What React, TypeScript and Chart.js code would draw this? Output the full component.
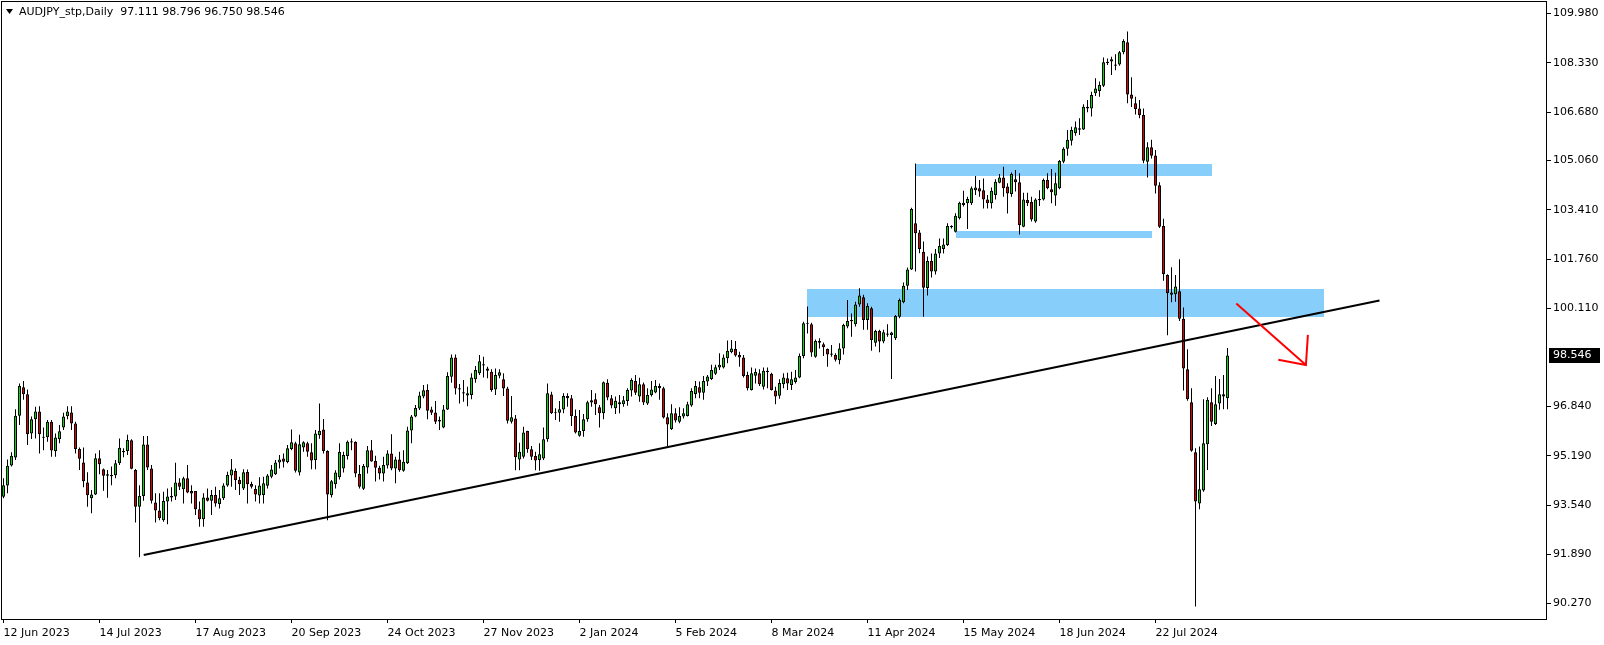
import React, { useEffect, useRef } from 'react';
import { Chart, registerables } from 'chart.js';

Chart.register(...registerables);

const TITLE = 'AUDJPY_stp,Daily  97.111 98.796 96.750 98.546';

const OPEN = [
  93.82, 94.20, 94.87, 95.13, 96.53, 97.48, 97.25, 95.94, 96.41, 96.67,
  95.80, 95.81, 96.33, 95.34, 95.74, 96.14, 96.51, 96.64, 96.27, 95.42,
  94.97, 94.30, 93.77, 93.90, 95.11, 94.74, 94.57, 94.53, 94.54, 94.94,
  95.35, 95.35, 95.71, 94.72, 93.49, 93.85, 95.57, 94.77, 93.63, 93.36,
  93.04, 93.66, 93.80, 93.83, 94.30, 94.07, 94.44, 94.01, 94.01, 93.40,
  93.07, 93.80, 93.69, 93.88, 93.58, 93.77, 94.20, 94.53, 94.68, 94.38,
  94.10, 94.65, 94.25, 94.08, 93.86, 93.88, 94.19, 94.49, 94.57, 94.97,
  95.10, 94.98, 95.42, 95.61, 94.63, 95.47, 95.61, 95.31, 95.05, 95.88,
  96.07, 95.35, 93.87, 94.24, 94.47, 94.77, 95.18, 95.67, 95.65, 94.58,
  94.09, 94.80, 95.38, 95.02, 94.79, 94.60, 94.87, 95.27, 94.77, 95.07,
  94.69, 94.94, 96.04, 96.50, 96.77, 97.17, 97.39, 96.74, 96.64, 96.39,
  96.14, 96.74, 97.83, 98.48, 97.44, 97.31, 97.21, 97.22, 97.75, 97.95,
  98.22, 98.11, 98.00, 97.41, 97.87, 97.75, 97.44, 96.33, 96.44, 95.07,
  95.16, 96.02, 95.41, 95.18, 95.05, 95.10, 95.74, 97.24, 96.65, 96.63,
  96.74, 97.19, 97.11, 96.52, 95.86, 96.02, 96.41, 96.97, 97.08, 96.81,
  96.61, 97.63, 97.11, 96.78, 96.98, 96.91, 97.02, 97.37, 97.69, 97.17,
  97.58, 96.94, 97.22, 97.31, 97.52, 97.45, 96.48, 96.08, 96.61, 96.33,
  96.50, 96.52, 96.87, 97.26, 97.48, 97.30, 97.67, 97.76, 97.93, 98.14,
  98.14, 98.45, 98.65, 98.76, 98.56, 98.48, 97.89, 97.39, 97.87, 97.95,
  97.50, 98.02, 97.93, 97.37, 97.20, 97.58, 97.78, 97.56, 97.66, 97.81,
  98.53, 99.64, 99.59, 98.50, 98.97, 98.92, 98.76, 98.60, 98.56, 98.38,
  98.78, 99.51, 99.72, 99.59, 100.25, 100.49, 99.73, 100.12, 98.97, 99.36,
  99.01, 99.27, 99.23, 99.12, 99.84, 100.32, 100.87, 101.42, 102.96, 102.65,
  102.01, 100.80, 101.70, 101.35, 101.95, 102.10, 102.24, 102.84, 102.68, 103.13,
  103.57, 103.63, 103.63, 104.07, 104.13, 104.07, 103.76, 103.63, 103.91, 104.32,
  104.49, 104.19, 103.94, 104.43, 104.33, 102.85, 103.74, 103.68, 103.02, 103.76,
  103.76, 104.41, 104.10, 103.89, 104.13, 105.02, 105.45, 105.72, 105.97, 106.14,
  106.10, 106.80, 106.80, 107.31, 107.38, 107.56, 108.36, 108.37, 108.27, 108.27,
  108.68, 109.01, 107.27, 106.97, 106.80, 106.58, 105.02, 105.50, 105.23, 104.23,
  102.87, 101.23, 100.57, 100.59, 100.69, 99.77, 98.08, 96.98, 95.31, 93.60,
  94.03, 95.58, 96.98, 96.25, 96.94, 97.25, 97.111,
];

const HIGH = [
  94.44, 95.07, 95.31, 96.75, 97.61, 97.69, 97.41, 96.50, 96.83, 96.85,
  96.14, 96.39, 96.39, 95.94, 96.22, 96.63, 96.85, 96.85, 96.33, 95.47,
  95.47, 94.64, 94.05, 95.27, 95.38, 94.77, 94.72, 94.83, 95.05, 95.77,
  95.44, 95.89, 95.74, 94.75, 94.21, 95.85, 95.85, 94.88, 93.94, 93.94,
  93.99, 94.10, 94.14, 94.96, 94.44, 94.49, 94.88, 94.21, 94.01, 93.66,
  93.94, 94.10, 94.05, 94.16, 94.05, 94.27, 94.66, 95.08, 94.77, 94.49,
  94.74, 94.73, 94.32, 94.21, 94.47, 94.49, 94.58, 94.88, 95.05, 95.22,
  95.27, 95.55, 96.07, 95.66, 95.89, 95.68, 95.66, 95.61, 96.05, 96.94,
  96.42, 95.38, 94.38, 94.71, 95.61, 95.33, 95.70, 95.77, 95.68, 94.88,
  94.92, 95.52, 95.72, 95.19, 94.86, 95.16, 95.38, 95.91, 95.16, 95.33,
  95.38, 96.16, 96.55, 96.89, 97.33, 97.56, 97.58, 96.83, 97.02, 96.50,
  96.89, 97.98, 98.58, 98.58, 97.59, 97.72, 97.50, 97.95, 98.19, 98.56,
  98.50, 98.17, 98.08, 98.11, 98.08, 97.95, 97.50, 97.19, 96.55, 95.63,
  96.16, 96.03, 95.52, 95.33, 95.61, 96.14, 97.61, 97.33, 96.78, 97.02,
  97.28, 97.28, 97.22, 96.74, 96.72, 96.59, 97.03, 97.39, 97.28, 96.89,
  97.67, 97.75, 97.22, 97.17, 97.22, 97.19, 97.45, 97.78, 97.89, 97.80,
  97.64, 97.45, 97.69, 97.72, 97.61, 97.50, 96.61, 96.91, 96.78, 96.81,
  96.78, 97.00, 97.45, 97.69, 97.67, 97.86, 97.89, 98.23, 98.23, 98.62,
  98.58, 99.04, 99.06, 99.03, 98.67, 98.56, 98.00, 98.14, 98.11, 98.08,
  98.14, 98.14, 97.97, 97.50, 97.75, 97.95, 97.97, 98.00, 98.06, 98.61,
  99.67, 100.18, 99.64, 99.08, 99.12, 98.98, 98.78, 98.89, 98.62, 98.95,
  99.60, 100.40, 99.95, 100.34, 100.79, 100.57, 100.29, 100.17, 99.40, 99.40,
  99.40, 99.59, 99.34, 99.90, 100.45, 100.98, 101.48, 103.48, 104.96, 102.74,
  102.35, 101.85, 101.95, 102.10, 102.45, 102.45, 102.96, 102.90, 103.30, 103.68,
  104.05, 103.85, 104.19, 104.54, 104.41, 104.46, 103.91, 104.16, 104.43, 104.61,
  104.85, 104.30, 104.66, 104.74, 104.63, 103.98, 103.98, 103.85, 103.80, 104.07,
  104.46, 104.63, 104.78, 104.65, 105.08, 105.50, 106.08, 106.19, 106.36, 106.47,
  106.94, 107.08, 107.36, 107.81, 107.70, 108.50, 108.47, 108.53, 108.61, 108.72,
  109.11, 109.37, 107.84, 107.19, 107.08, 106.80, 105.67, 105.75, 105.41, 104.33,
  103.11, 101.26, 101.49, 101.23, 101.76, 100.15, 98.75, 97.45, 95.44, 95.50,
  97.08, 97.15, 97.45, 97.86, 97.76, 97.89, 98.796,
];

const LOW = [
  93.77, 93.94, 94.83, 95.05, 96.22, 97.06, 95.55, 95.75, 95.77, 95.27,
  95.38, 95.66, 95.16, 95.16, 95.61, 96.05, 96.41, 96.05, 95.27, 94.72,
  94.14, 93.49, 93.27, 93.88, 94.57, 94.02, 93.79, 94.21, 94.44, 94.88,
  95.14, 95.22, 94.74, 92.96, 91.80, 93.69, 94.72, 93.60, 92.96, 93.04,
  92.99, 92.90, 93.66, 93.71, 94.05, 93.60, 93.94, 93.60, 93.21, 92.82,
  92.82, 93.66, 93.21, 93.49, 93.43, 93.71, 94.16, 94.16, 94.05, 93.88,
  94.05, 93.60, 94.10, 93.66, 93.60, 93.60, 94.10, 94.44, 94.55, 94.77,
  94.80, 94.94, 95.38, 94.63, 94.53, 95.33, 95.16, 94.74, 94.74, 95.76,
  95.27, 93.04, 93.80, 94.10, 94.40, 94.63, 95.07, 95.38, 94.47, 94.10,
  94.05, 94.60, 94.99, 94.33, 94.40, 94.33, 94.77, 94.71, 94.27, 94.66,
  94.66, 94.92, 95.61, 96.48, 96.72, 97.11, 96.41, 96.55, 96.25, 96.05,
  96.11, 96.72, 97.63, 97.24, 96.94, 97.00, 96.85, 97.08, 97.63, 97.89,
  97.81, 97.78, 97.33, 97.22, 97.78, 97.19, 96.27, 96.27, 94.71, 94.71,
  95.10, 95.29, 95.05, 94.71, 94.69, 95.05, 95.66, 96.59, 96.39, 96.33,
  96.61, 96.83, 96.19, 95.94, 95.83, 95.83, 96.33, 96.83, 96.55, 96.14,
  96.41, 97.05, 96.78, 96.59, 96.61, 96.83, 96.86, 97.17, 97.22, 97.00,
  96.89, 96.89, 97.17, 97.28, 97.06, 96.44, 95.50, 96.05, 96.30, 96.28,
  96.44, 96.50, 96.83, 97.11, 97.11, 97.06, 97.52, 97.72, 97.89, 98.06,
  98.11, 98.28, 98.62, 98.50, 98.17, 97.81, 97.37, 97.37, 97.61, 97.52,
  97.41, 97.45, 97.37, 96.91, 97.10, 97.45, 97.39, 97.39, 97.61, 97.78,
  98.45, 99.28, 98.50, 98.47, 98.78, 98.53, 98.17, 98.50, 98.34, 98.25,
  98.58, 99.45, 99.17, 99.51, 100.17, 99.40, 99.40, 98.70, 98.84, 98.65,
  98.95, 99.17, 97.76, 99.06, 99.79, 100.29, 100.73, 101.40, 101.35, 101.96,
  99.84, 100.55, 101.15, 101.25, 101.80, 101.95, 102.20, 102.79, 102.65, 103.09,
  103.52, 102.77, 103.57, 103.91, 103.85, 103.46, 103.46, 103.46, 103.76, 104.30,
  103.85, 103.29, 103.85, 104.02, 102.59, 102.83, 103.54, 103.02, 102.98, 103.54,
  103.72, 104.10, 103.63, 103.55, 104.10, 104.97, 105.22, 105.56, 105.89, 105.91,
  106.08, 106.67, 106.53, 107.22, 107.19, 107.52, 108.25, 107.92, 108.08, 108.23,
  108.61, 106.97, 106.85, 106.60, 106.47, 104.97, 104.49, 105.13, 103.96, 102.80,
  101.04, 99.22, 100.32, 100.34, 99.70, 97.37, 97.03, 95.33, 90.15, 93.40,
  93.99, 94.72, 96.19, 96.22, 96.73, 96.75, 96.750,
];

const CLOSE = [
  94.21, 94.86, 95.19, 96.53, 97.52, 97.25, 95.91, 96.41, 96.67, 95.91,
  95.82, 96.33, 95.37, 95.80, 96.01, 96.50, 96.67, 96.27, 95.42, 95.09,
  94.34, 93.87, 93.90, 95.11, 94.91, 94.52, 94.52, 94.52, 94.94, 95.46,
  95.31, 95.72, 94.76, 93.49, 93.85, 95.57, 94.80, 93.69, 93.36, 93.10,
  93.68, 93.83, 93.85, 94.30, 94.16, 94.44, 93.96, 93.93, 93.40, 93.07,
  93.80, 93.69, 93.88, 93.60, 93.77, 94.20, 94.55, 94.73, 94.38, 94.24,
  94.64, 94.24, 94.16, 93.90, 94.20, 94.27, 94.53, 94.73, 94.97, 95.07,
  94.99, 95.44, 95.64, 94.69, 95.58, 95.64, 95.33, 95.03, 95.94, 96.03,
  95.35, 93.90, 94.34, 94.63, 95.32, 95.22, 95.66, 95.64, 94.60, 94.16,
  94.85, 95.38, 95.00, 94.79, 94.60, 94.88, 95.27, 94.77, 95.07, 94.71,
  94.99, 96.04, 96.50, 96.79, 97.21, 97.38, 96.70, 96.63, 96.33, 96.34,
  96.74, 97.86, 98.48, 97.44, 97.41, 97.28, 97.28, 97.81, 98.06, 98.35,
  98.24, 98.03, 97.39, 97.89, 97.98, 97.44, 96.36, 96.48, 95.14, 95.33,
  95.97, 95.41, 95.16, 95.03, 95.24, 95.74, 97.28, 96.61, 96.61, 96.75,
  97.19, 97.11, 96.52, 95.97, 96.02, 96.41, 96.98, 97.05, 96.91, 96.61,
  97.65, 97.14, 96.87, 97.03, 96.91, 97.05, 97.39, 97.72, 97.30, 97.58,
  96.97, 97.22, 97.41, 97.52, 97.45, 96.47, 96.24, 96.61, 96.37, 96.52,
  96.61, 96.91, 97.36, 97.52, 97.30, 97.69, 97.84, 98.06, 98.15, 98.23,
  98.48, 98.70, 98.78, 98.54, 98.48, 97.86, 97.45, 97.95, 97.99, 97.58,
  98.03, 98.00, 97.39, 97.17, 97.62, 97.81, 97.61, 97.75, 97.81, 98.53,
  99.62, 99.60, 98.64, 99.03, 99.03, 98.82, 98.58, 98.58, 98.40, 98.78,
  99.56, 99.70, 99.70, 100.25, 100.55, 99.73, 100.20, 99.06, 99.36, 99.01,
  99.32, 99.25, 99.31, 99.86, 100.40, 100.87, 101.42, 103.44, 102.63, 102.10,
  100.81, 101.70, 101.35, 101.95, 102.20, 102.25, 102.87, 102.86, 103.21, 103.65,
  103.65, 103.77, 104.13, 104.16, 104.02, 103.76, 103.63, 104.05, 104.35, 104.49,
  104.13, 103.96, 104.61, 104.33, 102.90, 103.76, 103.63, 103.09, 103.76, 103.75,
  104.41, 104.13, 104.00, 104.30, 105.04, 105.45, 105.75, 106.08, 106.17, 106.09,
  106.86, 106.86, 107.25, 107.47, 107.58, 108.34, 108.32, 108.44, 108.23, 108.68,
  109.05, 107.27, 107.12, 106.78, 106.58, 105.05, 105.50, 105.22, 104.22, 102.85,
  101.26, 100.62, 100.65, 100.85, 99.77, 98.11, 97.08, 95.36, 93.66, 94.07,
  95.61, 97.06, 96.33, 96.91, 97.25, 97.17, 98.546,
];

const X_TICK_INDEX = [0, 24, 48, 72, 96, 120, 144, 168, 192, 216, 240, 264, 288];
const X_TICK_LABELS = [
  '12 Jun 2023', '14 Jul 2023', '17 Aug 2023', '20 Sep 2023', '24 Oct 2023',
  '27 Nov 2023', '2 Jan 2024', '5 Feb 2024', '8 Mar 2024', '11 Apr 2024',
  '15 May 2024', '18 Jun 2024', '22 Jul 2024',
];
const Y_TICKS = [109.98, 108.33, 106.68, 105.06, 103.41, 101.76, 100.11, 96.84, 95.19, 93.54, 91.89, 90.27];
const LAST_PRICE = 98.546;

const TREND_X = [35.05, 344];
const TREND_Y = [91.875, 100.38];

const ARROW_X = [308.2, 325.6];
const ARROW_Y = [100.28, 98.225];
const ARROW_HEAD_X = [318.7, 325.6, 326.1];
const ARROW_HEAD_Y = [98.40, 98.225, 99.23];

const ZONE_START = [201, 228, 238];
const ZONE_END = [330, 302, 287];
const ZONE_HIGH = [100.77, 104.95, 102.70];
const ZONE_LOW = [99.84, 104.55, 102.48];

const BULL = '#00dd00';
const BEAR = '#dd0000';
const ZONE_COLOR = '#87CEFA';
const FONT = 'DejaVu Sans';
const MIN_BODY = 0.04;

const zonesPlugin = {
  id: 'zones',
  beforeDatasetsDraw(chart: any) {
    const { ctx, scales } = chart;
    const xs = scales.x;
    const ys = scales.y;
    ctx.save();
    ctx.fillStyle = ZONE_COLOR;
    for (let k = 0; k < ZONE_START.length; k++) {
      const x0 = Math.round(xs.getPixelForValue(ZONE_START[k]));
      const x1 = Math.round(xs.getPixelForValue(ZONE_END[k]));
      const y0 = Math.round(ys.getPixelForValue(ZONE_HIGH[k]));
      const y1 = Math.round(ys.getPixelForValue(ZONE_LOW[k]));
      ctx.fillRect(x0, y0, x1 - x0, y1 - y0);
    }
    ctx.restore();
  },
};

const decorPlugin = {
  id: 'decor',
  beforeDraw(chart: any) {
    const { ctx } = chart;
    ctx.save();
    ctx.fillStyle = '#ffffff';
    ctx.fillRect(0, 0, chart.width, chart.height);
    ctx.restore();
  },
  afterDraw(chart: any) {
    const { ctx, chartArea, scales } = chart;
    ctx.save();
    ctx.strokeStyle = '#000';
    ctx.lineWidth = 1;
    ctx.strokeRect(chartArea.left + 0.5, chartArea.top + 0.5, chartArea.right - chartArea.left - 1, chartArea.bottom - chartArea.top);
    ctx.fillStyle = '#000';
    ctx.beginPath();
    ctx.moveTo(6, 9);
    ctx.lineTo(13, 9);
    ctx.lineTo(9.5, 14);
    ctx.closePath();
    ctx.fill();
    ctx.font = `11px "${FONT}"`;
    ctx.textBaseline = 'middle';
    ctx.textAlign = 'left';
    ctx.fillText(TITLE, 19, 12.5);
    const y = scales.y.getPixelForValue(LAST_PRICE);
    ctx.fillStyle = '#000';
    ctx.fillRect(chartArea.right + 2, Math.round(y) - 7, 51, 15);
    ctx.fillStyle = '#fff';
    ctx.fillText(LAST_PRICE.toFixed(3), chartArea.right + 6, Math.round(y) + 0.5);
    ctx.restore();
  },
};

export default function App() {
  const canvasRef = useRef<HTMLCanvasElement | null>(null);

  useEffect(() => {
    document.body.style.margin = '0';
    const canvas = canvasRef.current;
    if (!canvas) return;
    Chart.defaults.font.family = FONT;
    Chart.defaults.font.size = 11;
    Chart.defaults.color = '#000';

    const idx = OPEN.map((_, i) => i);
    const wickData = idx.map((i) => ({ x: i, y: [LOW[i], HIGH[i]] }));
    const bodyData = idx.map((i) => {
      let lo = Math.min(OPEN[i], CLOSE[i]);
      let hi = Math.max(OPEN[i], CLOSE[i]);
      if (hi - lo < MIN_BODY) {
        const m = (hi + lo) / 2;
        lo = m - MIN_BODY / 2;
        hi = m + MIN_BODY / 2;
      }
      return { x: i, y: [lo, hi] };
    });
    const bodyColors = idx.map((i) => (CLOSE[i] >= OPEN[i] ? BULL : BEAR));

    const chart = new Chart(canvas, {
      type: 'bar',
      data: {
        datasets: [
          {
            type: 'line',
            data: ARROW_HEAD_X.map((x, k) => ({ x, y: ARROW_HEAD_Y[k] })),
            borderColor: '#ff0000',
            borderWidth: 2,
            pointRadius: 0,
            fill: false,
            order: 0,
          } as any,
          {
            type: 'line',
            data: ARROW_X.map((x, k) => ({ x, y: ARROW_Y[k] })),
            borderColor: '#ff0000',
            borderWidth: 2,
            pointRadius: 0,
            fill: false,
            order: 0,
          } as any,
          {
            type: 'line',
            data: TREND_X.map((x, k) => ({ x, y: TREND_Y[k] })),
            borderColor: '#000000',
            borderWidth: 2.2,
            pointRadius: 0,
            fill: false,
            order: 1,
          } as any,
          {
            type: 'bar',
            data: bodyData,
            backgroundColor: bodyColors,
            borderColor: '#000000',
            borderWidth: 1,
            borderSkipped: false,
            barThickness: 3,
            grouped: false,
            inflateAmount: 0,
            order: 2,
          } as any,
          {
            type: 'bar',
            data: wickData,
            backgroundColor: '#000000',
            borderWidth: 0,
            barThickness: 1,
            grouped: false,
            inflateAmount: 0,
            order: 3,
          } as any,
        ],
      },
      options: {
        animation: false,
        responsive: false,
        maintainAspectRatio: false,
        events: [],
        layout: { padding: { left: 1, top: 1, right: 0, bottom: 0 } },
        plugins: {
          legend: { display: false },
          tooltip: { enabled: false },
          title: { display: false },
        },
        scales: {
          x: {
            type: 'linear',
            min: -0.625,
            max: 385.875,
            offset: false,
            grid: { drawOnChartArea: false, drawTicks: true, tickLength: 4, color: '#000', offset: false },
            border: { display: false },
            ticks: {
              autoSkip: false,
              maxRotation: 0,
              minRotation: 0,
              align: 'start',
              padding: 4,
              color: '#000',
              font: { family: FONT, size: 11 },
              callback: (v: any) => {
                const k = X_TICK_INDEX.indexOf(Number(v));
                return k >= 0 ? X_TICK_LABELS[k] : '';
              },
            },
            afterBuildTicks: (s: any) => {
              s.ticks = X_TICK_INDEX.map((v) => ({ value: v }));
            },
            afterFit: (s: any) => {
              s.height = 26;
              s.paddingLeft = 0;
              s.paddingRight = 0;
            },
          },
          y: {
            type: 'linear',
            position: 'right',
            min: 89.736,
            max: 110.391,
            grid: { drawOnChartArea: false, drawTicks: true, tickLength: 4, color: '#000' },
            border: { display: false },
            ticks: {
              autoSkip: false,
              padding: 2,
              color: '#000',
              font: { family: FONT, size: 11 },
              callback: (v: any) => Number(v).toFixed(3),
            },
            afterBuildTicks: (s: any) => {
              s.ticks = Y_TICKS.map((v) => ({ value: v }));
            },
            afterFit: (s: any) => {
              s.width = 57;
              s.paddingTop = 0;
              s.paddingBottom = 0;
            },
          },
        },
      } as any,
      plugins: [decorPlugin, zonesPlugin],
    });

    return () => {
      chart.destroy();
    };
  }, []);

  return (
    <div style={{ width: 1604, height: 645, position: 'relative' }}>
      <canvas ref={canvasRef} width={1604} height={645} style={{ display: 'block', width: 1604, height: 645 }} />
    </div>
  );
}
